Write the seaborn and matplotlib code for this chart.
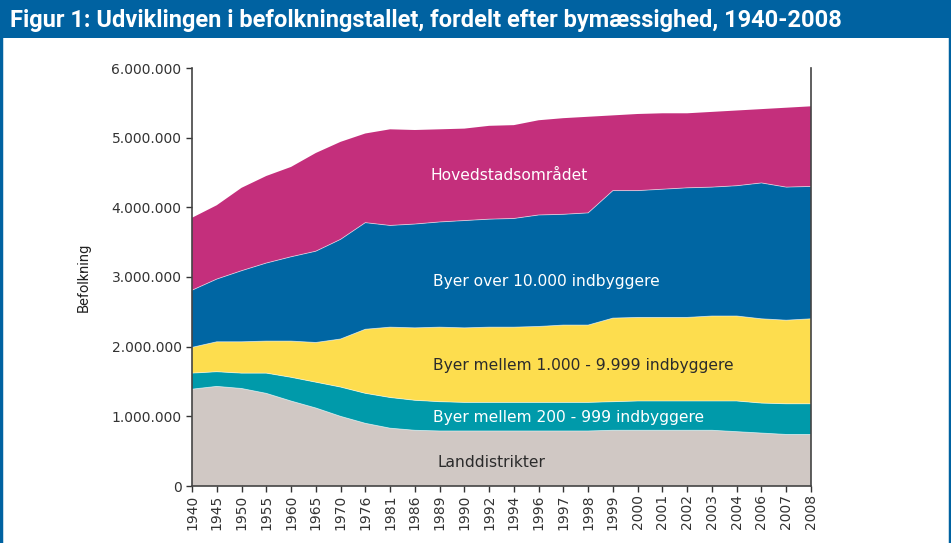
import numpy as np
import matplotlib
matplotlib.use("Agg")
import matplotlib.pyplot as plt
import seaborn as sns
from matplotlib.ticker import FuncFormatter
from matplotlib.patches import Rectangle
from matplotlib.lines import Line2D

# x-axis categories (equally spaced in the original)
years = ["1940", "1945", "1950", "1955", "1960", "1965", "1970", "1976", "1981",
         "1986", "1989", "1990", "1992", "1994", "1996", "1997", "1998", "1999",
         "2000", "2001", "2002", "2003", "2004", "2006", "2007", "2008"]

# population by degree of urbanisation, in thousands
landdistrikter = [1390, 1430, 1400, 1330, 1220, 1120, 1000, 900, 830, 800, 790, 790, 790,
                  790, 790, 790, 790, 800, 800, 800, 800, 800, 780, 760, 740, 740]
byer_200_999 = [230, 210, 220, 290, 340, 370, 420, 430, 440, 430, 420, 410, 410,
                410, 410, 410, 410, 410, 420, 420, 420, 420, 440, 430, 440, 440]
byer_1000_9999 = [370, 430, 450, 460, 520, 570, 690, 920, 1010, 1040, 1070, 1070, 1080,
                  1080, 1090, 1110, 1110, 1200, 1200, 1200, 1200, 1220, 1220, 1210, 1200, 1220]
byer_over_10000 = [820, 900, 1020, 1120, 1210, 1310, 1430, 1530, 1460, 1490, 1510, 1540, 1550,
                   1560, 1600, 1590, 1610, 1830, 1820, 1840, 1860, 1850, 1870, 1950, 1910, 1900]
hovedstad = [1040, 1060, 1190, 1250, 1290, 1410, 1400, 1280, 1380, 1350, 1330, 1320, 1340,
             1340, 1360, 1380, 1380, 1080, 1100, 1090, 1070, 1080, 1080, 1060, 1140, 1150]

series_labels = ["Landdistrikter", "Byer mellem 200 - 999 indbyggere",
                 "Byer mellem 1.000 - 9.999 indbyggere", "Byer over 10.000 indbyggere",
                 "Hovedstadsområdet"]
colors = ["#D0C8C4", "#009AAA", "#FDDD4E", "#0066A3", "#C42F7C"]
text_colors = ["#2b2b2b", "white", "#2b2b2b", "white", "white"]

sns.set_theme(style="ticks")
plt.rcParams["font.family"] = ["DejaVu Sans"]

fig = plt.figure(figsize=(9.51, 5.43), dpi=100)
ax = fig.add_axes([192 / 951, 1 - 486 / 543, (811 - 192) / 951, (486 - 68) / 543])

x = np.arange(len(years))
stack = np.array([landdistrikter, byer_200_999, byer_1000_9999,
                  byer_over_10000, hovedstad], dtype=float) * 1000
ax.stackplot(x, stack, colors=colors, edgecolor="none")

# thin light boundary lines between the bands
tops = np.cumsum(stack, axis=0)
for top in tops[:-1]:
    sns.lineplot(x=x, y=top, ax=ax, color="white", linewidth=0.6, alpha=0.6)

# band labels, all left aligned at about the same x position
label_x = [9.9, 9.73, 9.73, 9.73, 9.65]
label_y = [340000, 990000, 1730000, 2930000, 4460000]
for lab, lx, yv, tc in zip(series_labels, label_x, label_y, text_colors):
    ax.text(lx, yv, lab, color=tc, fontsize=11.2, va="center", ha="left")

ax.set_xlim(0, len(years) - 1)
ax.set_ylim(0, 6000000)
ax.set_yticks(np.arange(0, 6000001, 1000000))
ax.yaxis.set_major_formatter(FuncFormatter(lambda v, p: f"{int(v):,}".replace(",", ".")))
ax.set_xticks(x)
ax.set_xticklabels(years, rotation=90)
ax.tick_params(axis="both", labelsize=10, colors="#333333", length=4, width=1, direction="out")
ax.tick_params(axis="x", pad=2)
ax.set_ylabel("Befolkning", fontsize=10.5, color="#222222",
              family=["Roboto", "DejaVu Sans"], labelpad=15)
ax.set_xlabel("")
for side in ["left", "bottom", "right"]:
    ax.spines[side].set_color("#444444")
    ax.spines[side].set_linewidth(1.2)
ax.spines["top"].set_visible(False)

# title bar and blue side borders
blue = "#0062A1"
fig.patches.append(Rectangle((0, 1 - 38 / 543), 1, 38 / 543, transform=fig.transFigure,
                             facecolor=blue, edgecolor="none", zorder=0))
for xb in [1 / 951, 1 - 1.5 / 951]:
    fig.lines.append(Line2D([xb, xb], [0, 1], transform=fig.transFigure,
                            color=blue, linewidth=2.5))
fig.text(10 / 951, 1 - 20 / 543,
         "Figur 1: Udviklingen i befolkningstallet, fordelt efter bymæssighed, 1940-2008",
         color="white", fontsize=17, fontweight="bold", va="center", ha="left",
         family=["Roboto", "DejaVu Sans"])

fig.savefig("out.png", dpi=100)
